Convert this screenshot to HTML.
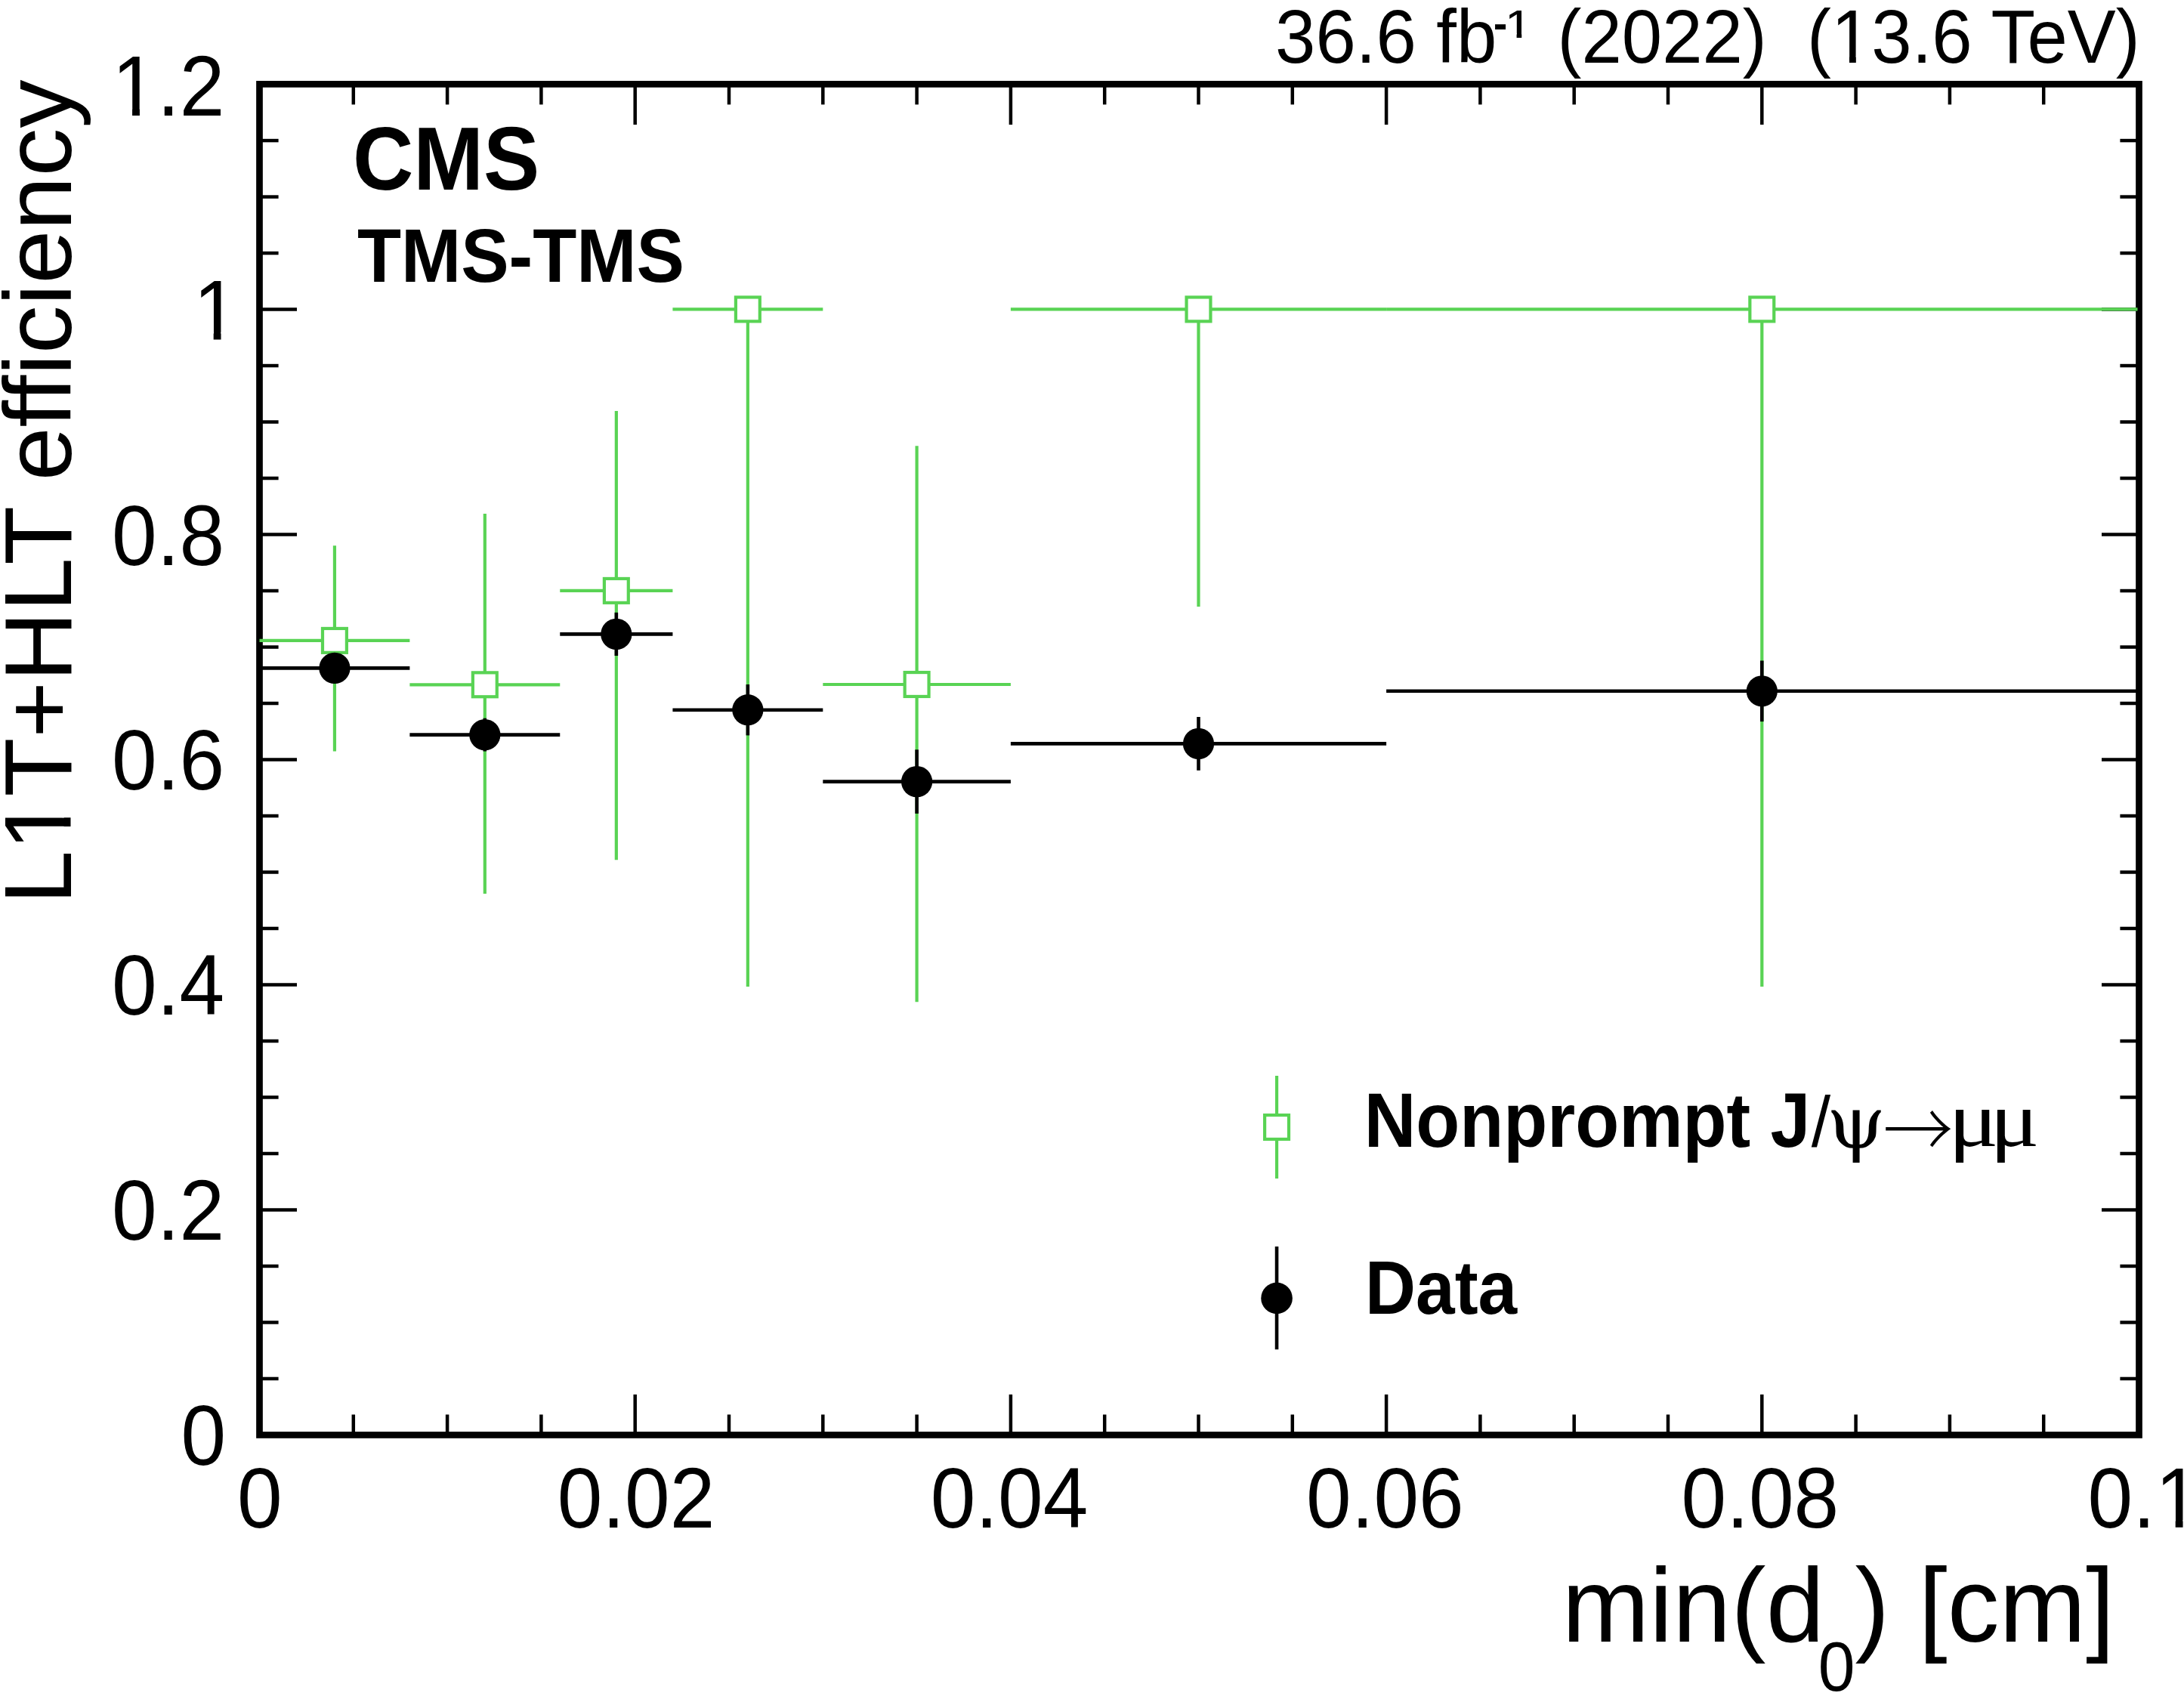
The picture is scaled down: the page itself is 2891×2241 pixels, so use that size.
<!DOCTYPE html>
<html><head><meta charset="utf-8"><title>L1T+HLT efficiency</title>
<style>html,body{margin:0;padding:0;background:#fff}body{width:2891px;height:2241px;overflow:hidden}svg{display:block}</style>
</head><body>
<svg width="2891" height="2241" viewBox="0 0 2891 2241">
<rect x="0" y="0" width="2891" height="2241" fill="#fff"/>
<rect x="343.5" y="111.4" width="2488.00" height="1788.05" fill="none" stroke="#000" stroke-width="8.7"/>
<g stroke="#000" stroke-width="4.5" fill="none">
<line x1="467.80" y1="1899.45" x2="467.80" y2="1872.45"/>
<line x1="467.80" y1="111.4" x2="467.80" y2="138.40"/>
<line x1="592.10" y1="1899.45" x2="592.10" y2="1872.45"/>
<line x1="592.10" y1="111.4" x2="592.10" y2="138.40"/>
<line x1="716.40" y1="1899.45" x2="716.40" y2="1872.45"/>
<line x1="716.40" y1="111.4" x2="716.40" y2="138.40"/>
<line x1="840.70" y1="1899.45" x2="840.70" y2="1845.85"/>
<line x1="840.70" y1="111.4" x2="840.70" y2="165.00"/>
<line x1="965.00" y1="1899.45" x2="965.00" y2="1872.45"/>
<line x1="965.00" y1="111.4" x2="965.00" y2="138.40"/>
<line x1="1089.30" y1="1899.45" x2="1089.30" y2="1872.45"/>
<line x1="1089.30" y1="111.4" x2="1089.30" y2="138.40"/>
<line x1="1213.60" y1="1899.45" x2="1213.60" y2="1872.45"/>
<line x1="1213.60" y1="111.4" x2="1213.60" y2="138.40"/>
<line x1="1337.90" y1="1899.45" x2="1337.90" y2="1845.85"/>
<line x1="1337.90" y1="111.4" x2="1337.90" y2="165.00"/>
<line x1="1462.20" y1="1899.45" x2="1462.20" y2="1872.45"/>
<line x1="1462.20" y1="111.4" x2="1462.20" y2="138.40"/>
<line x1="1586.50" y1="1899.45" x2="1586.50" y2="1872.45"/>
<line x1="1586.50" y1="111.4" x2="1586.50" y2="138.40"/>
<line x1="1710.80" y1="1899.45" x2="1710.80" y2="1872.45"/>
<line x1="1710.80" y1="111.4" x2="1710.80" y2="138.40"/>
<line x1="1835.10" y1="1899.45" x2="1835.10" y2="1845.85"/>
<line x1="1835.10" y1="111.4" x2="1835.10" y2="165.00"/>
<line x1="1959.40" y1="1899.45" x2="1959.40" y2="1872.45"/>
<line x1="1959.40" y1="111.4" x2="1959.40" y2="138.40"/>
<line x1="2083.70" y1="1899.45" x2="2083.70" y2="1872.45"/>
<line x1="2083.70" y1="111.4" x2="2083.70" y2="138.40"/>
<line x1="2208.00" y1="1899.45" x2="2208.00" y2="1872.45"/>
<line x1="2208.00" y1="111.4" x2="2208.00" y2="138.40"/>
<line x1="2332.30" y1="1899.45" x2="2332.30" y2="1845.85"/>
<line x1="2332.30" y1="111.4" x2="2332.30" y2="165.00"/>
<line x1="2456.60" y1="1899.45" x2="2456.60" y2="1872.45"/>
<line x1="2456.60" y1="111.4" x2="2456.60" y2="138.40"/>
<line x1="2580.90" y1="1899.45" x2="2580.90" y2="1872.45"/>
<line x1="2580.90" y1="111.4" x2="2580.90" y2="138.40"/>
<line x1="2705.20" y1="1899.45" x2="2705.20" y2="1872.45"/>
<line x1="2705.20" y1="111.4" x2="2705.20" y2="138.40"/>
<line x1="343.5" y1="1824.95" x2="368.60" y2="1824.95"/>
<line x1="2831.5" y1="1824.95" x2="2806.40" y2="1824.95"/>
<line x1="343.5" y1="1750.46" x2="368.60" y2="1750.46"/>
<line x1="2831.5" y1="1750.46" x2="2806.40" y2="1750.46"/>
<line x1="343.5" y1="1675.96" x2="368.60" y2="1675.96"/>
<line x1="2831.5" y1="1675.96" x2="2806.40" y2="1675.96"/>
<line x1="343.5" y1="1601.47" x2="393.00" y2="1601.47"/>
<line x1="2831.5" y1="1601.47" x2="2782.00" y2="1601.47"/>
<line x1="343.5" y1="1526.97" x2="368.60" y2="1526.97"/>
<line x1="2831.5" y1="1526.97" x2="2806.40" y2="1526.97"/>
<line x1="343.5" y1="1452.48" x2="368.60" y2="1452.48"/>
<line x1="2831.5" y1="1452.48" x2="2806.40" y2="1452.48"/>
<line x1="343.5" y1="1377.99" x2="368.60" y2="1377.99"/>
<line x1="2831.5" y1="1377.99" x2="2806.40" y2="1377.99"/>
<line x1="343.5" y1="1303.49" x2="393.00" y2="1303.49"/>
<line x1="2831.5" y1="1303.49" x2="2782.00" y2="1303.49"/>
<line x1="343.5" y1="1228.99" x2="368.60" y2="1228.99"/>
<line x1="2831.5" y1="1228.99" x2="2806.40" y2="1228.99"/>
<line x1="343.5" y1="1154.50" x2="368.60" y2="1154.50"/>
<line x1="2831.5" y1="1154.50" x2="2806.40" y2="1154.50"/>
<line x1="343.5" y1="1080.00" x2="368.60" y2="1080.00"/>
<line x1="2831.5" y1="1080.00" x2="2806.40" y2="1080.00"/>
<line x1="343.5" y1="1005.51" x2="393.00" y2="1005.51"/>
<line x1="2831.5" y1="1005.51" x2="2782.00" y2="1005.51"/>
<line x1="343.5" y1="931.01" x2="368.60" y2="931.01"/>
<line x1="2831.5" y1="931.01" x2="2806.40" y2="931.01"/>
<line x1="343.5" y1="856.52" x2="368.60" y2="856.52"/>
<line x1="2831.5" y1="856.52" x2="2806.40" y2="856.52"/>
<line x1="343.5" y1="782.02" x2="368.60" y2="782.02"/>
<line x1="2831.5" y1="782.02" x2="2806.40" y2="782.02"/>
<line x1="343.5" y1="707.53" x2="393.00" y2="707.53"/>
<line x1="2831.5" y1="707.53" x2="2782.00" y2="707.53"/>
<line x1="343.5" y1="633.03" x2="368.60" y2="633.03"/>
<line x1="2831.5" y1="633.03" x2="2806.40" y2="633.03"/>
<line x1="343.5" y1="558.54" x2="368.60" y2="558.54"/>
<line x1="2831.5" y1="558.54" x2="2806.40" y2="558.54"/>
<line x1="343.5" y1="484.04" x2="368.60" y2="484.04"/>
<line x1="2831.5" y1="484.04" x2="2806.40" y2="484.04"/>
<line x1="343.5" y1="409.55" x2="393.00" y2="409.55"/>
<line x1="2831.5" y1="409.55" x2="2782.00" y2="409.55"/>
<line x1="343.5" y1="335.05" x2="368.60" y2="335.05"/>
<line x1="2831.5" y1="335.05" x2="2806.40" y2="335.05"/>
<line x1="343.5" y1="260.56" x2="368.60" y2="260.56"/>
<line x1="2831.5" y1="260.56" x2="2806.40" y2="260.56"/>
<line x1="343.5" y1="186.06" x2="368.60" y2="186.06"/>
<line x1="2831.5" y1="186.06" x2="2806.40" y2="186.06"/>
</g>
<g stroke="#59d354" stroke-width="4.2" fill="none">
<line x1="343.50" y1="847.90" x2="542.38" y2="847.90"/>
<line x1="442.94" y1="722.20" x2="442.94" y2="994.40"/>
<line x1="542.38" y1="906.30" x2="741.26" y2="906.30"/>
<line x1="641.82" y1="680.00" x2="641.82" y2="1183.00"/>
<line x1="741.26" y1="781.90" x2="890.42" y2="781.90"/>
<line x1="815.84" y1="543.90" x2="815.84" y2="1138.30"/>
<line x1="890.42" y1="409.40" x2="1089.30" y2="409.40"/>
<line x1="989.86" y1="409.40" x2="989.86" y2="1306.00"/>
<line x1="1089.30" y1="906.00" x2="1337.90" y2="906.00"/>
<line x1="1213.60" y1="590.30" x2="1213.60" y2="1326.20"/>
<line x1="1337.90" y1="409.40" x2="1835.10" y2="409.40"/>
<line x1="1586.50" y1="409.40" x2="1586.50" y2="803.10"/>
<line x1="1835.10" y1="409.40" x2="2829.50" y2="409.40"/>
<line x1="2332.30" y1="409.40" x2="2332.30" y2="1306.00"/>
<rect x="426.99" y="831.95" width="31.9" height="31.9" fill="#fff"/>
<rect x="625.87" y="890.35" width="31.9" height="31.9" fill="#fff"/>
<rect x="799.89" y="765.95" width="31.9" height="31.9" fill="#fff"/>
<rect x="973.91" y="393.45" width="31.9" height="31.9" fill="#fff"/>
<rect x="1197.65" y="890.05" width="31.9" height="31.9" fill="#fff"/>
<rect x="1570.55" y="393.45" width="31.9" height="31.9" fill="#fff"/>
<rect x="2316.35" y="393.45" width="31.9" height="31.9" fill="#fff"/>
</g>
<g stroke="#000" stroke-width="4.6" fill="none">
<line x1="343.50" y1="884.40" x2="542.38" y2="884.40"/>
<line x1="442.94" y1="865.40" x2="442.94" y2="903.40"/>
<line x1="542.38" y1="972.60" x2="741.26" y2="972.60"/>
<line x1="641.82" y1="950.70" x2="641.82" y2="994.50"/>
<line x1="741.26" y1="839.40" x2="890.42" y2="839.40"/>
<line x1="815.84" y1="810.80" x2="815.84" y2="868.00"/>
<line x1="890.42" y1="939.70" x2="1089.30" y2="939.70"/>
<line x1="989.86" y1="906.00" x2="989.86" y2="973.40"/>
<line x1="1089.30" y1="1034.60" x2="1337.90" y2="1034.60"/>
<line x1="1213.60" y1="992.30" x2="1213.60" y2="1076.90"/>
<line x1="1337.90" y1="984.40" x2="1835.10" y2="984.40"/>
<line x1="1586.50" y1="949.00" x2="1586.50" y2="1019.80"/>
<line x1="1835.10" y1="914.80" x2="2829.50" y2="914.80"/>
<line x1="2332.30" y1="874.50" x2="2332.30" y2="955.10"/>
</g>
<circle cx="442.94" cy="884.40" r="20.6" fill="#000"/>
<circle cx="641.82" cy="972.60" r="20.6" fill="#000"/>
<circle cx="815.84" cy="839.40" r="20.6" fill="#000"/>
<circle cx="989.86" cy="939.70" r="20.6" fill="#000"/>
<circle cx="1213.60" cy="1034.60" r="20.6" fill="#000"/>
<circle cx="1586.50" cy="984.40" r="20.6" fill="#000"/>
<circle cx="2332.30" cy="914.80" r="20.6" fill="#000"/>
<g stroke="#59d354" stroke-width="4.2" fill="none"><line x1="1690.05" y1="1424.1" x2="1690.05" y2="1560.1"/><rect x="1674.10" y="1476.05" width="31.9" height="31.9" fill="#fff"/></g>
<line x1="1690.05" y1="1650.1" x2="1690.05" y2="1786.2" stroke="#000" stroke-width="4.6"/><circle cx="1690.05" cy="1718.4" r="20.8" fill="#000"/>
<g fill="#000">
<text transform="translate(466.90,251.00) scale(0.9432,1)" font-family="Liberation Sans, Arial, Helvetica, sans-serif" font-size="118.00" font-weight="bold" xml:space="preserve">CMS</text>
<text transform="translate(472.90,373.30) scale(0.9453,1)" font-family="Liberation Sans, Arial, Helvetica, sans-serif" font-size="100.60" font-weight="bold" xml:space="preserve">TMS-TMS</text>
<text transform="translate(1805.80,1518.40) scale(0.9380,1)" font-family="Liberation Sans, Arial, Helvetica, sans-serif" font-size="101.20" font-weight="bold" xml:space="preserve">Nonprompt J</text>
<text transform="translate(2397.70,1518.00) scale(0.9713,1)" font-family="Liberation Sans, Arial, Helvetica, sans-serif" font-size="94.00" xml:space="preserve">/</text>
<text transform="translate(2418.03,1518.80) scale(1.0343,1)" font-family="DejaVu Serif, Liberation Serif, serif" font-size="96.20" xml:space="preserve">ψ</text>
<text transform="translate(2492.40,1532.00) scale(0.9290,1)" font-family="Noto Serif CJK SC, Liberation Serif, serif" font-size="100.00" xml:space="preserve">→</text>
<text transform="translate(2578.90,1517.30) scale(1.2037,1)" font-family="Liberation Serif, Times New Roman, serif" font-size="103.10" xml:space="preserve">μ</text>
<text transform="translate(2634.00,1517.30) scale(1.1872,1)" font-family="Liberation Serif, Times New Roman, serif" font-size="103.10" xml:space="preserve">μ</text>
<text transform="translate(1807.10,1738.80) scale(0.9225,1)" font-family="Liberation Sans, Arial, Helvetica, sans-serif" font-size="100.60" font-weight="bold" xml:space="preserve">Data</text>
<text transform="translate(1688.10,83.10) scale(0.9495,1)" font-family="Liberation Sans, Arial, Helvetica, sans-serif" font-size="101.00" xml:space="preserve">36.6 fb</text>
<text transform="translate(1976.40,59.30) scale(0.6586,1)" font-family="Liberation Sans, Arial, Helvetica, sans-serif" font-size="87.00" xml:space="preserve">-</text>
<clipPath id="ft1" clipPathUnits="userSpaceOnUse"><rect x="-3456.00" y="-259.20" width="3458.38" height="518.40"/><rect x="1.88" y="-259.20" width="26.50" height="229.63"/><rect x="12.08" y="-30.27" width="5.93" height="6.51"/><rect x="27.87" y="-259.20" width="3456.00" height="518.40"/></clipPath>
<text transform="translate(1994.00,73.65) scale(1.1250,1)" font-family="Liberation Sans, Arial, Helvetica, sans-serif" font-size="86.40" clip-path="url(#ft1)" xml:space="preserve">¹</text>
<clipPath id="ft2" clipPathUnits="userSpaceOnUse"><rect x="-4040.00" y="-303.00" width="4428.40" height="606.00"/><rect x="387.90" y="-303.00" width="46.55" height="294.15"/><rect x="406.91" y="-9.55" width="9.33" height="9.55"/><rect x="433.95" y="-303.00" width="4040.00" height="606.00"/></clipPath>
<text transform="translate(2061.60,83.10) scale(0.9495,1)" font-family="Liberation Sans, Arial, Helvetica, sans-serif" font-size="101.00" clip-path="url(#ft2)" xml:space="preserve">(2022)  (13.6 TeV)</text>
<text transform="translate(299.10,1938.85) scale(0.9437,1)" font-family="Liberation Sans, Arial, Helvetica, sans-serif" font-size="113.60" text-anchor="end" xml:space="preserve">0</text>
<text transform="translate(297.10,1641.47) scale(0.9437,1)" font-family="Liberation Sans, Arial, Helvetica, sans-serif" font-size="113.60" text-anchor="end" xml:space="preserve">0.2</text>
<text transform="translate(297.10,1343.49) scale(0.9437,1)" font-family="Liberation Sans, Arial, Helvetica, sans-serif" font-size="113.60" text-anchor="end" xml:space="preserve">0.4</text>
<text transform="translate(297.10,1045.41) scale(0.9437,1)" font-family="Liberation Sans, Arial, Helvetica, sans-serif" font-size="113.60" text-anchor="end" xml:space="preserve">0.6</text>
<text transform="translate(297.10,747.53) scale(0.9437,1)" font-family="Liberation Sans, Arial, Helvetica, sans-serif" font-size="113.60" text-anchor="end" xml:space="preserve">0.8</text>
<clipPath id="ft3" clipPathUnits="userSpaceOnUse"><rect x="-4544.00" y="-340.80" width="4551.65" height="681.60"/><rect x="7.15" y="-340.80" width="51.98" height="331.01"/><rect x="28.37" y="-10.49" width="10.44" height="10.49"/><rect x="58.63" y="-340.80" width="4544.00" height="681.60"/></clipPath>
<text transform="translate(255.90,449.55) scale(0.9437,1)" font-family="Liberation Sans, Arial, Helvetica, sans-serif" font-size="113.60" clip-path="url(#ft3)" xml:space="preserve">1</text>
<clipPath id="ft4" clipPathUnits="userSpaceOnUse"><rect x="-4544.00" y="-340.80" width="4551.65" height="681.60"/><rect x="7.15" y="-340.80" width="51.98" height="331.01"/><rect x="28.37" y="-10.49" width="10.44" height="10.49"/><rect x="58.63" y="-340.80" width="4544.00" height="681.60"/></clipPath>
<text transform="translate(148.30,153.37) scale(0.9437,1)" font-family="Liberation Sans, Arial, Helvetica, sans-serif" font-size="113.60" clip-path="url(#ft4)" xml:space="preserve">1.2</text>
<text transform="translate(314.01,2021.70) scale(0.9437,1)" font-family="Liberation Sans, Arial, Helvetica, sans-serif" font-size="113.60" xml:space="preserve">0</text>
<text transform="translate(737.71,2021.70) scale(0.9437,1)" font-family="Liberation Sans, Arial, Helvetica, sans-serif" font-size="113.60" xml:space="preserve">0.02</text>
<text transform="translate(1231.71,2021.70) scale(0.9437,1)" font-family="Liberation Sans, Arial, Helvetica, sans-serif" font-size="113.60" xml:space="preserve">0.04</text>
<text transform="translate(1729.01,2021.70) scale(0.9437,1)" font-family="Liberation Sans, Arial, Helvetica, sans-serif" font-size="113.60" xml:space="preserve">0.06</text>
<text transform="translate(2225.61,2021.70) scale(0.9437,1)" font-family="Liberation Sans, Arial, Helvetica, sans-serif" font-size="113.60" xml:space="preserve">0.08</text>
<clipPath id="ft5" clipPathUnits="userSpaceOnUse"><rect x="-4544.00" y="-340.80" width="4646.40" height="681.60"/><rect x="101.90" y="-340.80" width="51.98" height="331.01"/><rect x="123.11" y="-10.49" width="10.44" height="10.49"/><rect x="153.37" y="-340.80" width="4544.00" height="681.60"/></clipPath>
<text transform="translate(2763.51,2021.70) scale(0.9437,1)" font-family="Liberation Sans, Arial, Helvetica, sans-serif" font-size="113.60" clip-path="url(#ft5)" xml:space="preserve">0.1</text>
<text transform="translate(2067.40,2173.00) scale(0.9957,1)" font-family="Liberation Sans, Arial, Helvetica, sans-serif" font-size="139.60" xml:space="preserve">min(d</text>
<text transform="translate(2406.70,2237.60) scale(0.9522,1)" font-family="Liberation Sans, Arial, Helvetica, sans-serif" font-size="92.00" xml:space="preserve">0</text>
<text transform="translate(2455.50,2173.00) scale(0.9850,1)" font-family="Liberation Sans, Arial, Helvetica, sans-serif" font-size="139.60" xml:space="preserve">) [cm]</text>
<clipPath id="ft6" clipPathUnits="userSpaceOnUse"><rect x="-5082.40" y="-381.18" width="5161.74" height="762.36"/><rect x="78.84" y="-381.18" width="57.78" height="370.39"/><rect x="102.41" y="-11.49" width="11.63" height="11.49"/><rect x="136.12" y="-381.18" width="5082.40" height="762.36"/></clipPath>
<text transform="translate(93.50,1197.10) rotate(-90) scale(1.0069,1)" font-family="Liberation Sans, Arial, Helvetica, sans-serif" font-size="127.06" clip-path="url(#ft6)" xml:space="preserve">L1T+HLT efficiency</text>
</g>
</svg>
</body></html>
